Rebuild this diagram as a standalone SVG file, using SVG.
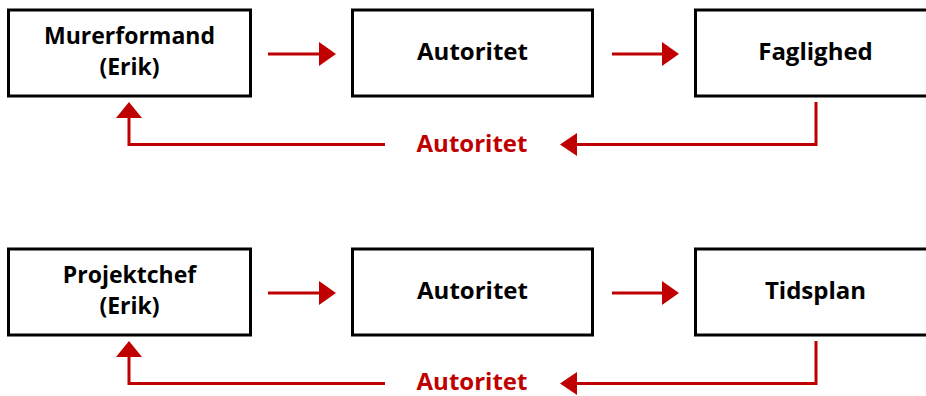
<svg xmlns="http://www.w3.org/2000/svg" width="926" height="396" viewBox="0 0 926 396">
  <defs>
    <style>
      .box { fill: #ffffff; stroke: #000000; stroke-width: 3; }
      .lbl { font-family: "Open Sans", "Liberation Sans", sans-serif; font-weight: bold; font-size: 24px; fill: #000000; text-anchor: middle; }
      .two { font-size: 23px; }
      .red { fill: #C00000; }
      .conn { fill: none; stroke: #C00000; stroke-width: 3; }
      .head { fill: #C00000; stroke: none; }
    </style>
  </defs>

  <rect width="926" height="396" fill="#ffffff"/>

  <!-- Row 1 -->
  <g id="murerformand">
    <rect class="box" x="8.5" y="10" width="242" height="86"/>
    <text class="lbl two" x="129.5" y="44">Murerformand</text>
    <text class="lbl two" x="129.5" y="75">(Erik)</text>
  </g>
  <g id="autoritet1">
    <rect class="box" x="352.5" y="10" width="240" height="86"/>
    <text class="lbl" x="472.5" y="60">Autoritet</text>
  </g>
  <g id="faglighed">
    <rect class="box" x="695.5" y="10" width="240" height="86"/>
    <text class="lbl" x="815.5" y="60">Faglighed</text>
  </g>

  <!-- Row 2 -->
  <g id="projektchef">
    <rect class="box" x="8.5" y="249" width="242" height="86"/>
    <text class="lbl two" x="129.5" y="283">Projektchef</text>
    <text class="lbl two" x="129.5" y="314">(Erik)</text>
  </g>
  <g id="autoritet2">
    <rect class="box" x="352.5" y="249" width="240" height="86"/>
    <text class="lbl" x="472.5" y="299">Autoritet</text>
  </g>
  <g id="tidsplan">
    <rect class="box" x="695.5" y="249" width="240" height="86"/>
    <text class="lbl" x="815.5" y="299">Tidsplan</text>
  </g>

  <g id="connectors">
    <!-- Row 1 forward arrows -->
    <line class="conn" x1="268" y1="54" x2="320" y2="54"/>
    <polygon class="head" points="319,42 336,54 319,66"/>
    <line class="conn" x1="612" y1="54" x2="663" y2="54"/>
    <polygon class="head" points="662,42 679,54 662,66"/>
    <!-- Row 1 feedback loop -->
    <polyline class="conn" points="816,102 816,144.5 575,144.5"/>
    <polygon class="head" points="577,133 560,144.5 577,156"/>
    <polyline class="conn" points="385,144.5 129,144.5 129,116"/>
    <polygon class="head" points="116,118 129,102 142,118"/>
    <text class="lbl red" x="472" y="152">Autoritet</text>

    <!-- Row 2 forward arrows -->
    <line class="conn" x1="268" y1="293" x2="320" y2="293"/>
    <polygon class="head" points="319,281 336,293 319,305"/>
    <line class="conn" x1="612" y1="293" x2="663" y2="293"/>
    <polygon class="head" points="662,281 679,293 662,305"/>
    <!-- Row 2 feedback loop -->
    <polyline class="conn" points="816,341 816,383.5 575,383.5"/>
    <polygon class="head" points="577,372 560,383.5 577,395"/>
    <polyline class="conn" points="385,383.5 129,383.5 129,355"/>
    <polygon class="head" points="116,357 129,341 142,357"/>
    <text class="lbl red" x="472" y="390">Autoritet</text>
  </g>
</svg>
